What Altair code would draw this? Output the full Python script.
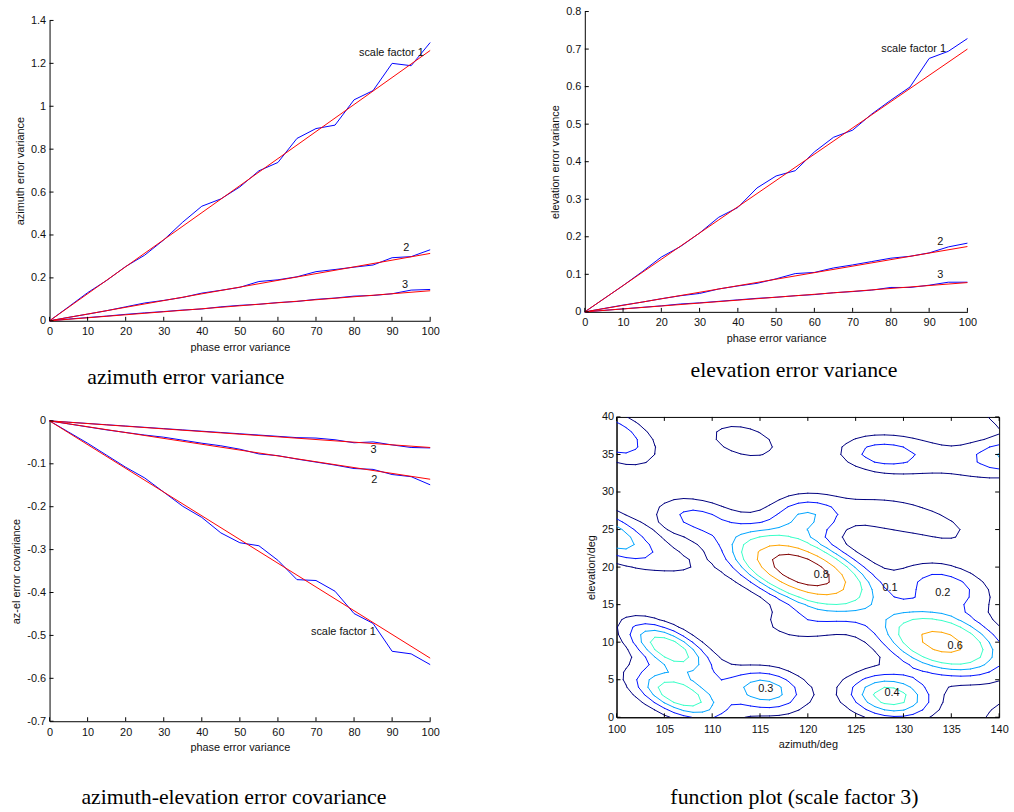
import numpy as np
import pandas as pd
import altair as alt

# ---------------------------------------------------------------- line panels
pev = [0, 5, 10, 15, 20, 25, 30, 35, 40, 45, 50, 55, 60, 65, 70, 75, 80, 85, 90, 95, 100]
fit_x = [0, 100]

az_sf1 = [0, 0.065, 0.131, 0.188, 0.253, 0.306, 0.377, 0.460, 0.534, 0.568, 0.624,
          0.699, 0.738, 0.850, 0.896, 0.912, 1.030, 1.073, 1.200, 1.189, 1.297]
az_sf2 = [0, 0.016, 0.031, 0.047, 0.065, 0.083, 0.095, 0.109, 0.129, 0.142, 0.156,
          0.183, 0.191, 0.205, 0.229, 0.239, 0.250, 0.260, 0.294, 0.299, 0.331]
az_sf3 = [0, 0.008, 0.015, 0.022, 0.030, 0.037, 0.043, 0.050, 0.055, 0.065, 0.072,
          0.077, 0.085, 0.090, 0.100, 0.106, 0.115, 0.118, 0.126, 0.143, 0.146]
az_fit = [[0, 1.26], [0, 0.314], [0, 0.140]]

el_sf1 = [0, 0.035, 0.070, 0.107, 0.146, 0.174, 0.210, 0.252, 0.278, 0.330, 0.362,
          0.376, 0.426, 0.465, 0.484, 0.527, 0.564, 0.599, 0.675, 0.694, 0.728]
el_sf2 = [0, 0.009, 0.018, 0.026, 0.035, 0.043, 0.049, 0.061, 0.069, 0.076, 0.088,
          0.102, 0.105, 0.117, 0.125, 0.134, 0.143, 0.148, 0.157, 0.173, 0.183]
el_sf3 = [0, 0.004, 0.008, 0.012, 0.016, 0.021, 0.024, 0.028, 0.032, 0.036, 0.039,
          0.043, 0.046, 0.051, 0.054, 0.058, 0.065, 0.065, 0.071, 0.079, 0.079]
el_fit = [[0, 0.70], [0, 0.174], [0, 0.078]]

cov_sf1 = [0, -0.026, -0.052, -0.080, -0.108, -0.133, -0.166, -0.199, -0.225, -0.261, -0.284,
           -0.291, -0.325, -0.370, -0.372, -0.397, -0.449, -0.472, -0.537, -0.543, -0.568]
cov_sf2 = [0, -0.007, -0.014, -0.021, -0.027, -0.033, -0.038, -0.045, -0.052, -0.058, -0.066,
           -0.077, -0.081, -0.089, -0.096, -0.103, -0.111, -0.113, -0.125, -0.130, -0.149]
cov_sf3 = [0, -0.003, -0.006, -0.009, -0.012, -0.015, -0.018, -0.021, -0.024, -0.027, -0.030,
           -0.033, -0.036, -0.039, -0.040, -0.044, -0.051, -0.049, -0.056, -0.062, -0.063]
cov_fit = [[0, -0.553], [0, -0.136], [0, -0.062]]

x_ticks = [0, 10, 20, 30, 40, 50, 60, 70, 80, 90, 100]
az_ticks = [0, 0.2, 0.4, 0.6, 0.8, 1.0, 1.2, 1.4]
el_ticks = [0, 0.1, 0.2, 0.3, 0.4, 0.5, 0.6, 0.7, 0.8]
cov_ticks = [-0.7, -0.6, -0.5, -0.4, -0.3, -0.2, -0.1, 0]

# curve labels: text, x, y, alignment
az_labels = [("scale factor 1", 98.3, 1.247, "right"), ("2", 93.7, 0.337, "center"), ("3", 93.4, 0.168, "center")]
el_labels = [("scale factor 1", 94.4, 0.701, "right"), ("2", 92.9, 0.186, "center"), ("3", 92.9, 0.099, "center")]
cov_labels = [("scale factor 1", 85.7, -0.491, "right"), ("2", 85.3, -0.137, "center"), ("3", 85.1, -0.068, "center")]

# ---------------------------------------------------------------- contour panel
az_grid = list(range(100, 141))
el_grid = list(range(0, 41))
az_ticks_c = [100, 105, 110, 115, 120, 125, 130, 135, 140]
el_ticks_c = [0, 5, 10, 15, 20, 25, 30, 35, 40]
levels = [0.1, 0.2, 0.3, 0.4, 0.6, 0.8]
level_colors = ["#000080", "#0012ff", "#00a4ff", "#38ffc7", "#ffa400", "#800000"]

# lobes of the function: centre az, centre el, height, spread along/across, tilt (deg)
lobe_az = [119.3, 120.0, 119.5, 134.0, 128.6, 105.5, 106.5, 115.5, 134.4, 108.0, 99.0, 106.5,
           127.7, 135.5, 141.0, 113.3, 99.5, 141.5, 127.8, 133.5, 141.5]
lobe_el = [19.6, 26.8, 12.5, 10.0, 2.8, 9.2, 3.0, 3.6, 17.4, 26.7, 24.5, 20.5,
           35.1, 34.0, 34.8, 36.8, 37.5, -1.0, 27.0, 25.5, 41.5]
lobe_h = [1.0, 0.30, 0.15, 0.68, 0.47, 0.50, 0.50, 0.37, 0.26, 0.21, 0.40, 0.08,
          0.23, 0.11, 0.27, 0.16, 0.30, 0.30, 0.15, 0.13, 0.30]
lobe_sa = [5.0, 2.8, 3.5, 4.4, 3.1, 3.5, 3.6, 3.0, 3.4, 3.0, 4.0, 3.0,
           3.2, 5.0, 2.5, 3.2, 3.5, 2.0, 3.0, 3.5, 2.0]
lobe_sb = [2.4, 2.0, 1.8, 2.5, 2.0, 1.6, 1.7, 2.0, 2.0, 1.8, 1.8, 1.5,
           1.7, 2.5, 1.5, 1.8, 2.0, 2.0, 1.6, 1.6, 2.0]
lobe_tilt = [-28, 0, 0, -22, -12, -35, -30, -12, -20, -15, -35, -30,
             -5, -10, 0, -20, -35, 0, -15, -25, 0]

# contour labels: text, az, el
contour_labels = [("0.8", 121.4, 19.0), ("0.1", 128.6, 17.2), ("0.2", 134.1, 16.6),
                  ("0.6", 135.4, 9.45), ("0.3", 115.6, 3.7), ("0.4", 128.8, 3.2)]

W1, W2, H = 384, 386, 303
TICK = 4
FONT = "Liberation Sans"


def surface():
    gx, gy = np.meshgrid(np.array(az_grid, float), np.array(el_grid, float))
    z = np.zeros_like(gx)
    for a, e, h, sa, sb, t in zip(lobe_az, lobe_el, lobe_h, lobe_sa, lobe_sb, lobe_tilt):
        r = np.deg2rad(t)
        dx, dy = gx - a, gy - e
        u = dx * np.cos(r) + dy * np.sin(r)
        v = -dx * np.sin(r) + dy * np.cos(r)
        z += h * np.exp(-0.5 * ((u / sa) ** 2 + (v / sb) ** 2))
    return z


def contour_segments(xs, ys, z, level):
    """Marching squares on a regular grid; returns line segments."""
    segs = []
    for j in range(len(ys) - 1):
        for i in range(len(xs) - 1):
            c = [z[j, i], z[j, i + 1], z[j + 1, i + 1], z[j + 1, i]]
            p = [(xs[i], ys[j]), (xs[i + 1], ys[j]), (xs[i + 1], ys[j + 1]), (xs[i], ys[j + 1])]
            pts = []
            for k in range(4):
                a, b = c[k], c[(k + 1) % 4]
                if (a >= level) != (b >= level):
                    t = (level - a) / (b - a)
                    pa, pb = p[k], p[(k + 1) % 4]
                    pts.append((pa[0] + t * (pb[0] - pa[0]), pa[1] + t * (pb[1] - pa[1])))
            if len(pts) == 2:
                segs.append((pts[0], pts[1]))
            elif len(pts) == 4:
                if (sum(c) / 4 >= level) == (c[0] >= level):
                    segs += [(pts[0], pts[1]), (pts[2], pts[3])]
                else:
                    segs += [(pts[0], pts[3]), (pts[1], pts[2])]
    return segs


def inward_ticks(xvals, yvals, xenc, yenc, w, h, box=False):
    layers = []
    dx = pd.DataFrame({"x": xvals})
    dy = pd.DataFrame({"y": yvals})
    layers.append(alt.Chart(dx).mark_rule(color="black").encode(
        x=xenc, y=alt.value(h), y2=alt.value(h - TICK)))
    layers.append(alt.Chart(dy).mark_rule(color="black").encode(
        y=yenc, x=alt.value(0), x2=alt.value(TICK)))
    if box:
        layers.append(alt.Chart(dx).mark_rule(color="black").encode(
            x=xenc, y=alt.value(0), y2=alt.value(TICK)))
        layers.append(alt.Chart(dy).mark_rule(color="black").encode(
            y=yenc, x=alt.value(w), x2=alt.value(w - TICK)))
    return layers


def line_panel(blue_series, fit_series, labels, ydomain, yticks, ytitle, caption, dx, off, w, h, top):
    xenc = alt.X("x:Q", scale=alt.Scale(domain=[0, 100], nice=False),
                 axis=alt.Axis(values=x_ticks, title="phase error variance", labelPadding=5))
    yenc = alt.Y("y:Q", scale=alt.Scale(domain=ydomain, range=[h, top], nice=False, zero=False),
                 axis=alt.Axis(values=yticks, title=ytitle, format="~g",
                               labelExpr="replace(datum.label, '\u2212', '-')"))
    rows = []
    for k, s in enumerate(blue_series):
        rows += [{"x": x, "y": y, "s": k} for x, y in zip(pev, s)]
    blue = alt.Chart(pd.DataFrame(rows)).mark_line(color="#0000ff", strokeWidth=1).encode(
        x=xenc, y=yenc, detail="s:N")
    rows = []
    for k, s in enumerate(fit_series):
        rows += [{"x": x, "y": y, "s": k} for x, y in zip(fit_x, s)]
    red = alt.Chart(pd.DataFrame(rows)).mark_line(color="#ff0000", strokeWidth=1).encode(
        x=xenc, y=yenc, detail="s:N")
    texts = []
    for t, x, y, al in labels:
        texts.append(alt.Chart(pd.DataFrame({"x": [x], "y": [y], "t": [t]})).mark_text(
            align=al, baseline="middle", font=FONT, fontSize=11, color="#111").encode(
            x=xenc, y=yenc, text="t:N"))
    layers = [blue, red] + texts + inward_ticks(x_ticks, yticks, xenc, yenc, w, h)
    return alt.layer(*layers).properties(
        width=w, height=h,
        view=alt.ViewBackground(stroke="transparent"),
        title=alt.TitleParams(caption, orient="bottom", anchor="middle", dx=dx, offset=off))


def contour_panel():
    z = surface()
    rows = []
    for lv in levels:
        for (x1, y1), (x2, y2) in contour_segments(az_grid, el_grid, z, lv):
            rows.append({"x": x1, "y": y1, "x2": x2, "y2": y2, "level": str(lv)})
    df = pd.DataFrame(rows)
    xenc = alt.X("x:Q", scale=alt.Scale(domain=[100, 140], nice=False, zero=False),
                 axis=alt.Axis(values=az_ticks_c, title="azimuth/deg", labelPadding=6))
    yenc = alt.Y("y:Q", scale=alt.Scale(domain=[0, 40], nice=False),
                 axis=alt.Axis(values=el_ticks_c, title="elevation/deg", labelPadding=3))
    lines = alt.Chart(df).mark_rule(strokeWidth=1, strokeCap="round", clip=True).encode(
        x=xenc, y=yenc, x2="x2:Q", y2="y2:Q",
        color=alt.Color("level:N", scale=alt.Scale(domain=[str(v) for v in levels], range=level_colors),
                        legend=None))
    lab = pd.DataFrame({"t": [c[0] for c in contour_labels], "x": [c[1] for c in contour_labels],
                        "y": [c[2] for c in contour_labels]})
    text = alt.Chart(lab).mark_text(font=FONT, fontSize=11, color="#111").encode(
        x=xenc, y=yenc, text="t:N")
    layers = [lines, text] + inward_ticks(az_ticks_c, el_ticks_c, xenc, yenc, W2, H, box=True)
    return alt.layer(*layers).properties(
        width=W2, height=H,
        view=alt.ViewBackground(stroke="black", strokeWidth=1),
        title=alt.TitleParams("function plot (scale factor 3)", orient="bottom", anchor="middle",
                              dx=-13.5, offset=38))


p1 = line_panel([az_sf1, az_sf2, az_sf3], az_fit, az_labels, [0, 1.4], az_ticks,
                "azimuth error variance", "azimuth error variance", -54.5, 15, W1, 312, 9)
p2 = line_panel([el_sf1, el_sf2, el_sf3], el_fit, el_labels, [0, 0.8], el_ticks,
                "elevation error variance", "elevation error variance", 18, 17, W2, H, 0)
p3 = line_panel([cov_sf1, cov_sf2, cov_sf3], cov_fit, cov_labels, [-0.7, 0], cov_ticks,
                "az-el error covariance", "azimuth-elevation error covariance", -6, 35, W1, 307, 4)
p4 = contour_panel()

chart = alt.vconcat(
    alt.hconcat(p1, p2, spacing=110),
    alt.hconcat(p3, p4, spacing=146),
    spacing=21,
).properties(
    padding={"left": 10, "top": 1, "right": 5, "bottom": 5},
    background="white",
).configure_axis(
    labelFont=FONT, labelFontSize=11, labelColor="#111", titleFont=FONT, titleFontSize=11,
    titleFontWeight="normal", titleColor="#111", domainColor="black", domainWidth=1,
    ticks=False, grid=False, labelPadding=4, titlePadding=5, labelFlush=False,
).configure_title(
    font="Liberation Serif", fontSize=22, fontWeight="normal", color="black",
)

chart.save("out.html", embed_options={"renderer": "svg", "actions": False})
